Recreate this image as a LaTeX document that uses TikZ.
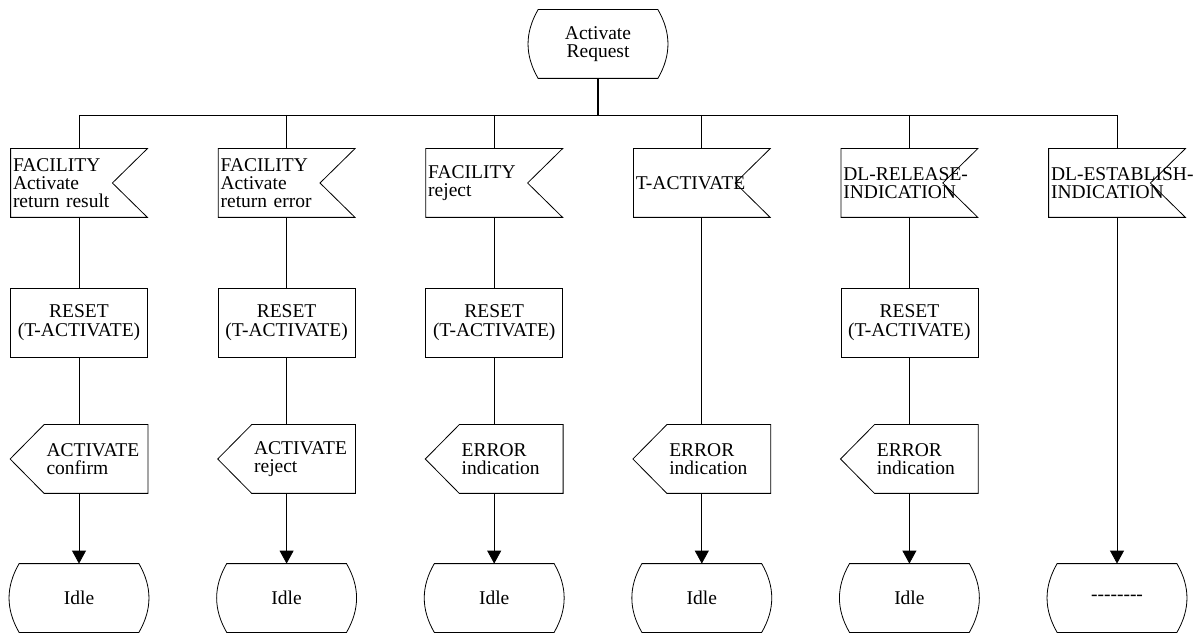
\documentclass[tikz,border=0pt]{standalone}
\usepackage{fontspec}
\setmainfont{Liberation Serif}[Ligatures=TeXOff]
\usetikzlibrary{arrows.meta}

\begin{document}
\begin{tikzpicture}[x=1pt,y=1pt,line width=0.8pt,
  font=\fontsize{19.5}{18.3}\selectfont,
  state/.style={minimum width=137pt,minimum height=68pt,inner sep=2pt,align=center},
  input/.style={minimum width=136pt,minimum height=68pt,inner sep=2pt,text width=132pt,align=left},
  task/.style={draw,minimum width=137pt,minimum height=69pt,inner sep=2pt,align=center},
  output/.style={minimum width=103pt,minimum height=68pt,inner sep=2pt,text width=99pt,align=left},
  flow/.style={-{Triangle[length=13pt,width=14pt]}}]
  \useasboundingbox (0,0) rectangle (1199,632);
  % start state
  \node[state] (req) at (598,588) {Activate\\Request};
  \coordinate (bus) at (598,517);
  % inputs
  \node[input] (in1) at (79,449) {FACILITY\\Activate\\return result};
  \node[input] (in2) at (286.6,449) {FACILITY\\Activate\\return error};
  \node[input] (in3) at (494.2,449) {FACILITY\\reject};
  \node[input] (in4) at (701.8,449) {T-ACTIVATE};
  \node[input] (in5) at (909.4,449) {DL-RELEASE-\\INDICATION};
  \node[input] (in6) at (1117,449) {\mbox{DL-ESTABLISH-}\\INDICATION};
  % timer resets
  \node[task] (rst1) at (79,309.5) {RESET\\(T-ACTIVATE)};
  \node[task] (rst2) at (286.6,309.5) {RESET\\(T-ACTIVATE)};
  \node[task] (rst3) at (494.2,309.5) {RESET\\(T-ACTIVATE)};
  \node[task] (rst5) at (909.4,309.5) {RESET\\(T-ACTIVATE)};
  % outputs, the point is drawn left of the node
  \node[output] (out1) at (96,173) {ACTIVATE\\confirm};
  \node[output] (out2) at (303.6,173) {ACTIVATE\\reject};
  \node[output] (out3) at (511.2,173) {ERROR\\indication};
  \node[output] (out4) at (718.8,173) {ERROR\\indication};
  \node[output] (out5) at (926.4,173) {ERROR\\indication};
  % next states
  \node[state] (nxt1) at (79,34) {Idle};
  \node[state] (nxt2) at (286.6,34) {Idle};
  \node[state] (nxt3) at (494.2,34) {Idle};
  \node[state] (nxt4) at (701.8,34) {Idle};
  \node[state] (nxt5) at (909.4,34) {Idle};
  \node[state] (nxt6) at (1117,34) {--------};

  % outlines
  \foreach \n in {req,nxt1,nxt2,nxt3,nxt4,nxt5,nxt6}
    \draw ([xshift=9pt]\n.north west) -- ([xshift=-9pt]\n.north east)
      to[bend left=30] ([xshift=-9pt]\n.south east) -- ([xshift=9pt]\n.south west)
      to[bend left=30] ([xshift=9pt]\n.north west) -- cycle;
  \foreach \n in {in1,in2,in3,in4,in5,in6}
    \draw (\n.north west) -- (\n.north east) -- ([xshift=-35pt]\n.east)
      -- (\n.south east) -- (\n.south west) -- cycle;
  \foreach \n in {out1,out2,out3,out4,out5}
    \draw (\n.north west) -- (\n.north east) -- (\n.south east)
      -- (\n.south west) -- ([xshift=-34pt]\n.west) -- cycle;

  % connectors
  \draw[line width=1.6pt] (req) -- (bus);
  \draw (bus -| in1) -- (bus -| in6);
  \foreach \n in {in1,in2,in3,in4,in5,in6}
    \draw (bus -| \n) -- (\n);
  \draw (in1) -- (rst1);
  \draw (rst1) -- (rst1 |- out1.north);
  \draw[flow] (rst1 |- out1.south) -- (nxt1);
  \draw (in2) -- (rst2);
  \draw (rst2) -- (rst2 |- out2.north);
  \draw[flow] (rst2 |- out2.south) -- (nxt2);
  \draw (in3) -- (rst3);
  \draw (rst3) -- (rst3 |- out3.north);
  \draw[flow] (rst3 |- out3.south) -- (nxt3);
  \draw (in4) -- (in4 |- out4.north);
  \draw[flow] (in4 |- out4.south) -- (nxt4);
  \draw (in5) -- (rst5);
  \draw (rst5) -- (rst5 |- out5.north);
  \draw[flow] (rst5 |- out5.south) -- (nxt5);
  \draw[flow] (in6) -- (nxt6);
\end{tikzpicture}
\end{document}
